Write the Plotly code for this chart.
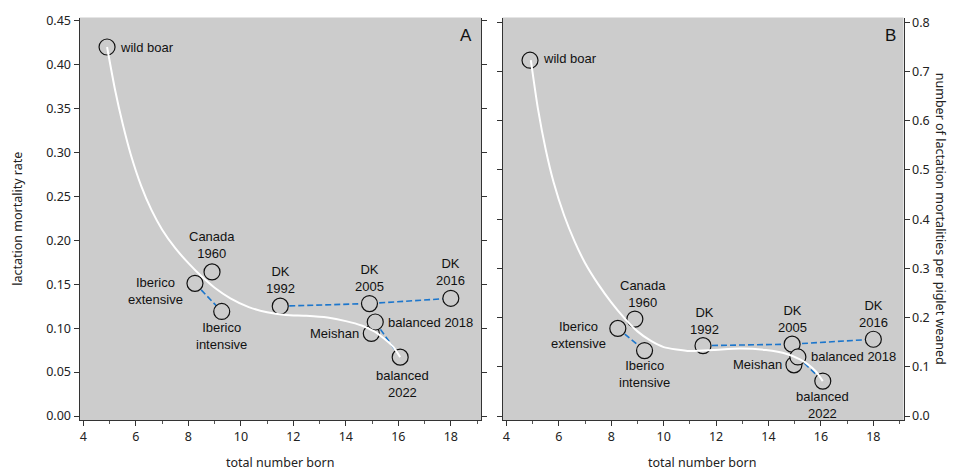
import plotly.graph_objects as go

# ---------------- data ----------------
categories = ["wild boar", "Iberico extensive", "Canada 1960", "Iberico intensive",
              "DK 1992", "DK 2005", "DK 2016", "Meishan", "balanced 2018", "balanced 2022"]
label_text = ["wild boar", "Iberico<br>extensive", "Canada<br>1960", "Iberico<br>intensive",
              "DK<br>1992", "DK<br>2005", "DK<br>2016", "Meishan", "balanced 2018", "balanced<br>2022"]
total_born = [4.9, 8.25, 8.9, 9.27, 11.5, 14.9, 18.0, 14.97, 15.12, 16.07]
mort_rate = [0.420, 0.151, 0.164, 0.119, 0.125, 0.128, 0.134, 0.094, 0.107, 0.067]
mort_per_weaned = [0.723, 0.178, 0.197, 0.133, 0.143, 0.146, 0.156, 0.104, 0.120, 0.071]

# dashed connections (by category name)
links = [["Iberico extensive", "Iberico intensive"],
         ["DK 1992", "DK 2005", "DK 2016"],
         ["balanced 2018", "balanced 2022"]]

# fitted curves
curve_a_x = [4.9, 5.2, 5.5, 5.8, 6.2, 6.6, 7.0, 7.5, 8.0, 8.5, 9.0, 9.6, 10.3, 11.0, 11.7, 12.5,
             13.3, 14.0, 14.6, 15.1, 15.5, 15.8, 16.07]
curve_a_y = [0.420, 0.372, 0.332, 0.298, 0.262, 0.234, 0.212, 0.191, 0.174, 0.159, 0.146, 0.134,
             0.124, 0.118, 0.115, 0.114, 0.112, 0.108, 0.103, 0.096, 0.087, 0.079, 0.067]
curve_b_x = [4.93, 5.2, 5.5, 5.8, 6.2, 6.6, 7.0, 7.5, 8.0, 8.5, 9.0, 9.5, 10.0, 11.0, 11.9, 12.9,
             13.9, 14.7, 15.2, 15.5, 15.8, 16.07]
curve_b_y = [0.723, 0.625, 0.541, 0.475, 0.408, 0.355, 0.311, 0.268, 0.231, 0.199, 0.172, 0.153,
             0.140, 0.132, 0.134, 0.137, 0.134, 0.126, 0.115, 0.105, 0.091, 0.071]

x_ticks = [4, 6, 8, 10, 12, 14, 16, 18]

# ---------------- styling ----------------
W, H = 956, 470
BG = "#cccccc"
BLUE = "#1c76cc"
LABEL_FONT = dict(family="Liberation Sans, Arial, sans-serif", size=13, color="#111")
TICK_FONT = dict(family="Noto Sans, Open Sans, sans-serif", size=12.5, color="#222")

# label placement: (xanchor, xshift, yshift) per panel
place_a = {"wild boar": ("left", 11, 0), "Iberico extensive": ("right", -10, -8),
           "Canada 1960": ("center", 0, 27), "Iberico intensive": ("center", 0, -25),
           "DK 1992": ("center", 0, 26), "DK 2005": ("center", 0, 26), "DK 2016": ("center", 0, 26),
           "Meishan": ("right", -10, 0), "balanced 2018": ("left", 11, 0),
           "balanced 2022": ("center", 2, -27)}
place_b = {"wild boar": ("left", 11, 2), "Iberico extensive": ("right", -10, -7),
           "Canada 1960": ("center", 8, 25), "Iberico intensive": ("center", 0, -23),
           "DK 1992": ("center", 1, 25), "DK 2005": ("center", 0, 25), "DK 2016": ("center", 0, 25),
           "Meishan": ("right", -10, 0), "balanced 2018": ("left", 11, 0),
           "balanced 2022": ("center", 0, -24)}

fig = go.Figure()


def add_panel(yvals, cx, cy, xa, ya, place):
    idx = {c: i for i, c in enumerate(categories)}
    lx, ly = [], []
    for grp in links:
        for c in grp:
            lx.append(total_born[idx[c]])
            ly.append(yvals[idx[c]])
        lx.append(None)
        ly.append(None)
    fig.add_trace(go.Scatter(x=lx, y=ly, mode="lines", xaxis=xa, yaxis=ya,
                             line=dict(color=BLUE, width=1.6, dash="6px,3px"),
                             hoverinfo="skip", showlegend=False))
    fig.add_trace(go.Scatter(x=total_born, y=yvals, mode="markers", xaxis=xa, yaxis=ya,
                             marker=dict(size=16, color=BG, line=dict(color="#111", width=1.2)),
                             text=categories, showlegend=False))
    fig.add_trace(go.Scatter(x=cx, y=cy, mode="lines", xaxis=xa, yaxis=ya,
                             line=dict(color="white", width=2, shape="spline", smoothing=0.6),
                             hoverinfo="skip", showlegend=False))
    for i, c in enumerate(categories):
        anc, xs, ys = place[c]
        fig.add_annotation(x=total_born[i], y=yvals[i], xref=xa, yref=ya.replace("axis", ""),
                           text=label_text[i], showarrow=False, xanchor=anc, yanchor="middle",
                           xshift=xs, yshift=ys, font=LABEL_FONT, align="center")


add_panel(mort_rate, curve_a_x, curve_a_y, "x", "y", place_a)
add_panel(mort_per_weaned, curve_b_x, curve_b_y, "x2", "y2", place_b)

ydom = [50 / H, 452.5 / H]
xdom1 = [79.5 / W, 481 / W]
xdom2 = [502.5 / W, 903.5 / W]

common_x = dict(range=[3.85, 19.15], tickvals=x_ticks, ticks="outside", ticklen=5,
                tickcolor="#333", showline=True, linecolor="#333", linewidth=1,
                showgrid=False, zeroline=False, tickfont=TICK_FONT,
                minor=dict(ticks="outside", ticklen=3, dtick=1, tick0=5, tickcolor="#555"),
                automargin=False)
common_y = dict(ticks="outside", ticklen=5, tickcolor="#333", showline=True, linecolor="#333",
                linewidth=1, mirror="ticks", showgrid=False, zeroline=False, tickfont=TICK_FONT,
                automargin=False, domain=ydom)

fig.update_layout(
    width=W, height=H,
    margin=dict(l=0, r=0, t=0, b=0),
    paper_bgcolor="white", plot_bgcolor=BG,
    xaxis=dict(domain=xdom1, anchor="y", **common_x),
    xaxis2=dict(domain=xdom2, anchor="y2", **common_x),
    yaxis=dict(anchor="x", range=[-0.00455, 0.4536], dtick=0.05, tick0=0, tickformat=".2f",
               **common_y),
    yaxis2=dict(anchor="x2", side="right", range=[-0.0081, 0.8098], dtick=0.1, tick0=0,
                tickformat=".1f", **common_y),
    showlegend=False,
)

TITLE_FONT = dict(family="Noto Sans, Open Sans, sans-serif", size=12.5, color="#222")
ymid = (ydom[0] + ydom[1]) / 2
fig.add_annotation(text="lactation mortality rate", xref="paper", yref="paper", x=18 / W, y=ymid,
                   textangle=-90, showarrow=False, font=TITLE_FONT, xanchor="center", yanchor="middle")
fig.add_annotation(text="number of lactation mortalities per piglet weaned", xref="paper", yref="paper",
                   x=940 / W, y=ymid, textangle=90, showarrow=False, font=TITLE_FONT,
                   xanchor="center", yanchor="middle")
for dom in (xdom1, xdom2):
    fig.add_annotation(text="total number born", xref="paper", yref="paper", x=(dom[0] + dom[1]) / 2,
                       y=1 - 462 / H, showarrow=False, font=TITLE_FONT, xanchor="center",
                       yanchor="middle")
for letter, xr in (("A", 474), ("B", 898)):
    fig.add_annotation(text=letter, xref="paper", yref="paper", x=xr / W, y=1 - 35 / H,
                       showarrow=False, xanchor="right", yanchor="middle",
                       font=dict(family="Liberation Sans, Arial, sans-serif", size=17, color="#111"))

fig.write_html("out.html", config={"displayModeBar": False},
               post_script="document.body.style.margin='0';document.body.style.overflow='hidden';")
